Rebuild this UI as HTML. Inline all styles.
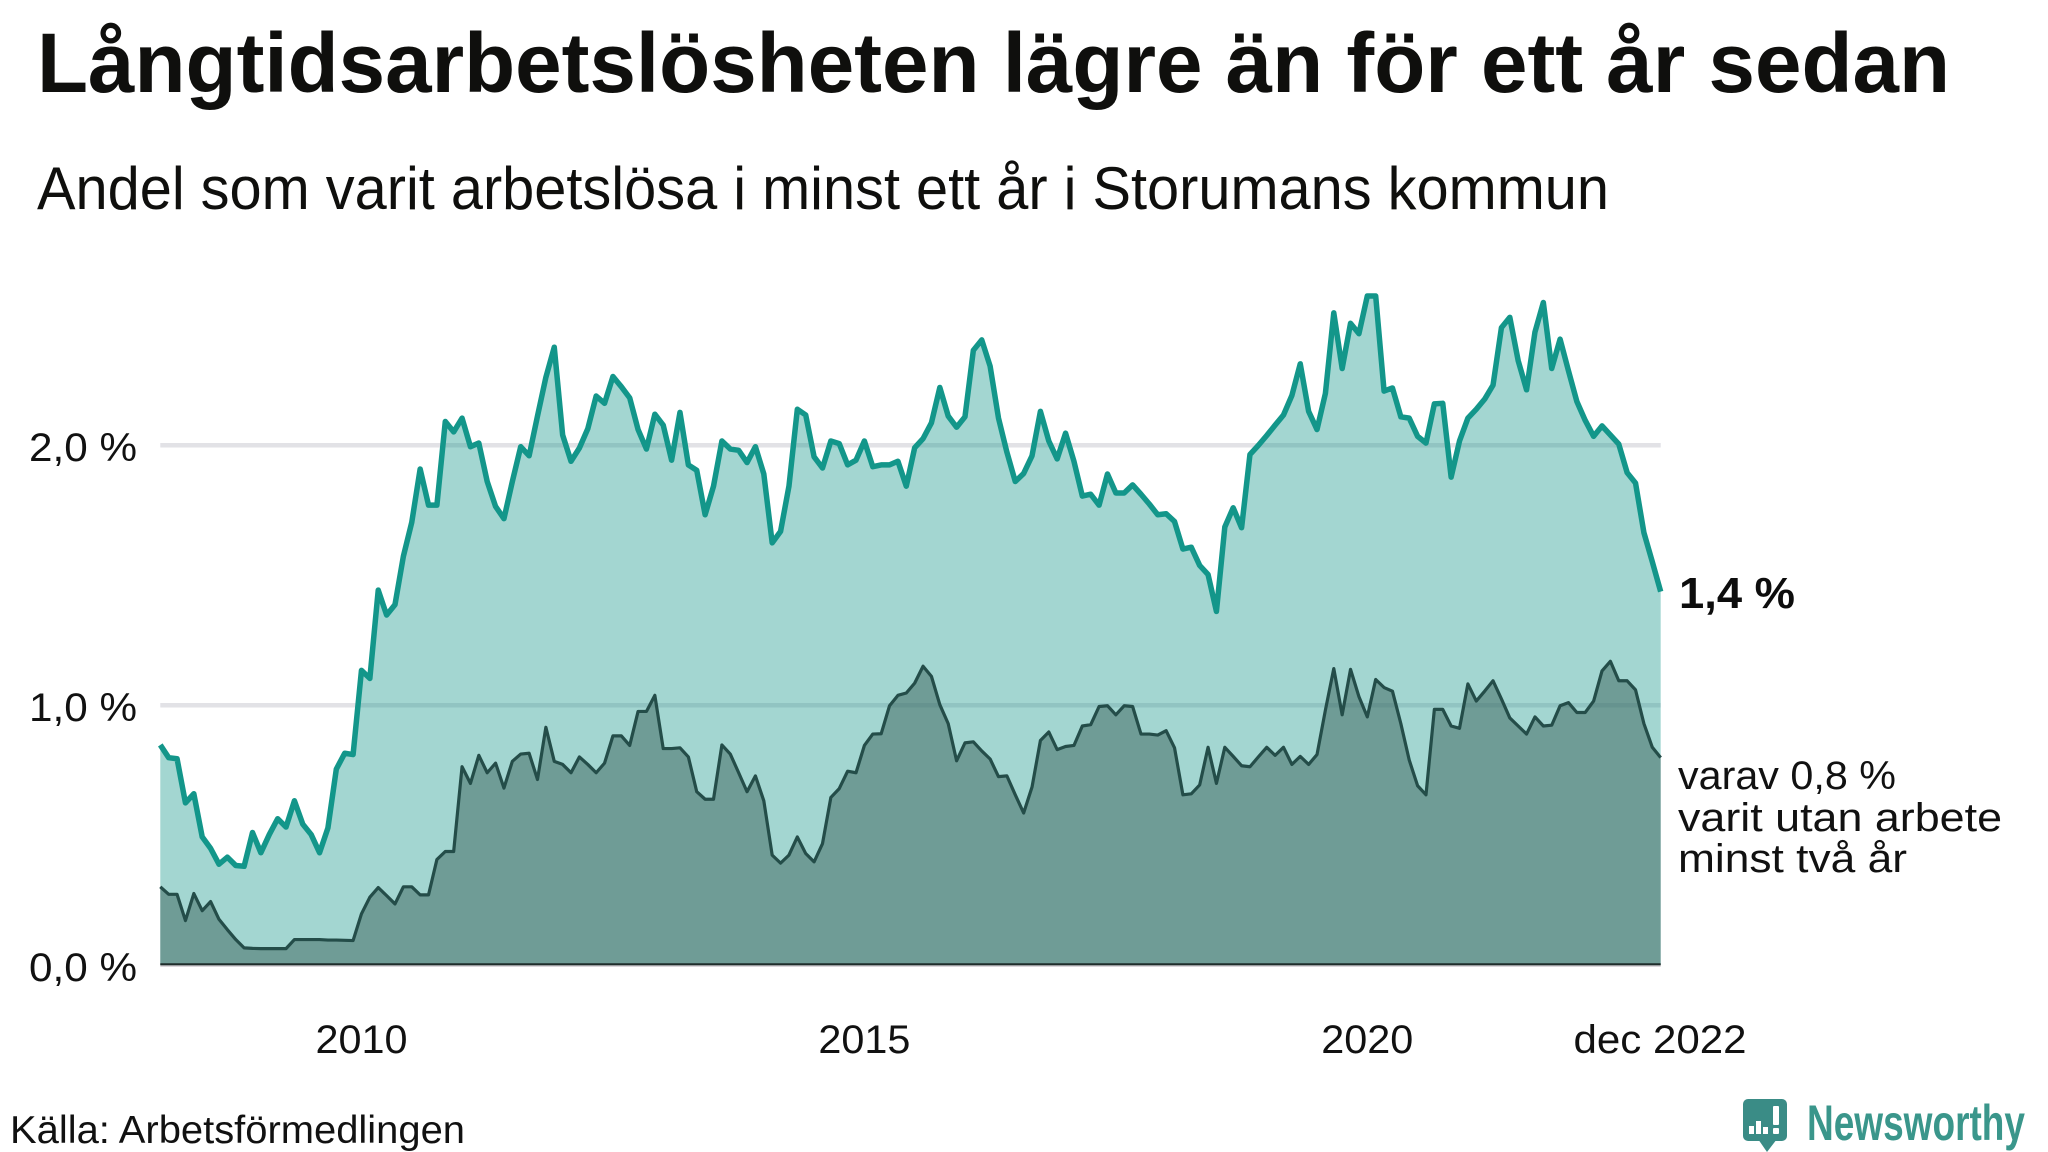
<!DOCTYPE html>
<html>
<head>
<meta charset="utf-8">
<style>
html,body{margin:0;padding:0;background:#fff;}
svg{display:block;}
text{font-family:"Liberation Sans","DejaVu Sans",sans-serif;}
</style>
</head>
<body>
<svg width="2048" height="1152" viewBox="0 0 2048 1152" xmlns="http://www.w3.org/2000/svg">
<rect x="0" y="0" width="2048" height="1152" fill="#ffffff"/>

<!-- Title & subtitle -->
<text x="37" y="92" font-size="84" font-weight="bold" fill="#0f0f0d" textLength="1913" lengthAdjust="spacingAndGlyphs">Långtidsarbetslösheten lägre än för ett år sedan</text>
<text x="37" y="209" font-size="60" fill="#0f0f0d" textLength="1572" lengthAdjust="spacingAndGlyphs">Andel som varit arbetslösa i minst ett år i Storumans kommun</text>

<!-- Gridlines -->
<line x1="160.3" y1="445.3" x2="1660.7" y2="445.3" stroke="#e2e2e6" stroke-width="4.5"/>
<line x1="160.3" y1="705.2" x2="1660.7" y2="705.2" stroke="#e2e2e6" stroke-width="4.5"/>

<!-- Y labels -->
<text x="137" y="461" font-size="40" fill="#111" text-anchor="end" textLength="108" lengthAdjust="spacingAndGlyphs">2,0 %</text>
<text x="137" y="721" font-size="40" fill="#111" text-anchor="end" textLength="108" lengthAdjust="spacingAndGlyphs">1,0 %</text>
<text x="137" y="981" font-size="40" fill="#111" text-anchor="end" textLength="108" lengthAdjust="spacingAndGlyphs">0,0 %</text>

<g transform="translate(160.3,965) scale(8.382,-259.8)">
<polygon fill="rgb(18,150,136)" fill-opacity="0.39" points="0,0 0,0.847 1,0.798 2,0.794 3,0.624 4,0.659 5,0.493 6,0.449 7,0.388 8,0.415 9,0.383 10,0.380 11,0.510 12,0.432 13,0.502 14,0.563 15,0.531 16,0.632 17,0.542 18,0.502 19,0.432 20,0.528 21,0.754 22,0.815 23,0.810 24,1.134 25,1.103 26,1.443 27,1.347 28,1.387 29,1.573 30,1.704 31,1.909 32,1.770 33,1.770 34,2.092 35,2.052 36,2.105 37,1.995 38,2.009 39,1.861 40,1.765 41,1.718 42,1.861 43,1.995 44,1.960 45,2.113 46,2.262 47,2.378 48,2.040 49,1.939 50,1.990 51,2.064 52,2.190 53,2.162 54,2.265 55,2.226 56,2.183 57,2.061 58,1.986 59,2.120 60,2.078 61,1.943 62,2.127 63,1.925 64,1.904 65,1.733 66,1.843 67,2.017 68,1.986 69,1.981 70,1.934 71,1.995 72,1.890 73,1.625 74,1.669 75,1.843 76,2.139 77,2.117 78,1.956 79,1.913 80,2.017 81,2.007 82,1.925 83,1.943 84,2.017 85,1.918 86,1.925 87,1.925 88,1.939 89,1.843 90,1.991 91,2.026 92,2.087 93,2.223 94,2.113 95,2.070 96,2.110 97,2.366 98,2.406 99,2.305 100,2.105 101,1.974 102,1.861 103,1.892 104,1.960 105,2.131 106,2.017 107,1.948 108,2.047 109,1.939 110,1.805 111,1.812 112,1.770 113,1.890 114,1.817 115,1.817 116,1.848 117,1.812 118,1.774 119,1.733 120,1.737 121,1.707 122,1.601 123,1.608 124,1.538 125,1.503 126,1.361 127,1.686 128,1.760 129,1.683 130,1.965 131,2.000 132,2.038 133,2.078 134,2.117 135,2.192 136,2.314 137,2.131 138,2.061 139,2.200 140,2.510 141,2.296 142,2.470 143,2.430 144,2.575 145,2.575 146,2.209 147,2.221 148,2.110 149,2.105 150,2.035 151,2.009 152,2.160 153,2.162 154,1.878 155,2.017 156,2.105 157,2.139 158,2.178 159,2.232 160,2.453 161,2.493 162,2.326 163,2.214 164,2.436 165,2.550 166,2.296 167,2.409 168,2.287 169,2.169 170,2.096 171,2.035 172,2.075 173,2.040 174,2.005 175,1.895 176,1.855 177,1.664 178,1.552 179,1.437 179,0"/>
<polygon fill="rgb(59,98,91)" fill-opacity="0.5" points="0,0 0,0.301 1,0.272 2,0.272 3,0.171 4,0.275 5,0.209 6,0.244 7,0.176 8,0.136 9,0.098 10,0.066 11,0.064 12,0.063 13,0.063 14,0.063 15,0.063 16,0.098 17,0.098 18,0.098 19,0.098 20,0.096 21,0.096 22,0.095 23,0.094 24,0.197 25,0.261 26,0.298 27,0.267 28,0.235 29,0.301 30,0.301 31,0.270 32,0.270 33,0.406 34,0.437 35,0.437 36,0.763 37,0.699 38,0.807 39,0.740 40,0.777 41,0.681 42,0.784 43,0.812 44,0.815 45,0.714 46,0.915 47,0.784 48,0.772 49,0.740 50,0.801 51,0.772 52,0.740 53,0.777 54,0.882 55,0.882 56,0.845 57,0.976 58,0.976 59,1.038 60,0.833 61,0.833 62,0.836 63,0.801 64,0.667 65,0.638 66,0.638 67,0.847 68,0.812 69,0.740 70,0.667 71,0.728 72,0.632 73,0.423 74,0.392 75,0.423 76,0.493 77,0.429 78,0.397 79,0.467 80,0.645 81,0.679 82,0.746 83,0.740 84,0.845 85,0.889 86,0.890 87,0.998 88,1.038 89,1.047 90,1.085 91,1.150 92,1.111 93,1.002 94,0.929 95,0.786 96,0.855 97,0.859 98,0.824 99,0.793 100,0.725 101,0.728 102,0.655 103,0.585 104,0.685 105,0.864 106,0.897 107,0.829 108,0.841 109,0.845 110,0.920 111,0.925 112,0.995 113,0.998 114,0.963 115,0.998 116,0.995 117,0.889 118,0.889 119,0.885 120,0.902 121,0.836 122,0.655 123,0.659 124,0.693 125,0.838 126,0.699 127,0.838 128,0.803 129,0.767 130,0.763 131,0.801 132,0.838 133,0.807 134,0.838 135,0.772 136,0.803 137,0.772 138,0.810 139,0.981 140,1.141 141,0.963 142,1.138 143,1.033 144,0.955 145,1.099 146,1.068 147,1.054 148,0.929 149,0.789 150,0.690 151,0.655 152,0.984 153,0.984 154,0.920 155,0.911 156,1.082 157,1.016 158,1.054 159,1.094 160,1.024 161,0.951 162,0.920 163,0.889 164,0.955 165,0.920 166,0.923 167,0.998 168,1.010 169,0.972 170,0.972 171,1.016 172,1.132 173,1.169 174,1.094 175,1.094 176,1.059 177,0.929 178,0.838 179,0.798 179,0"/>
<polyline fill="none" stroke="#244d49" stroke-width="3.2" stroke-linejoin="round" vector-effect="non-scaling-stroke" points="0,0.301 1,0.272 2,0.272 3,0.171 4,0.275 5,0.209 6,0.244 7,0.176 8,0.136 9,0.098 10,0.066 11,0.064 12,0.063 13,0.063 14,0.063 15,0.063 16,0.098 17,0.098 18,0.098 19,0.098 20,0.096 21,0.096 22,0.095 23,0.094 24,0.197 25,0.261 26,0.298 27,0.267 28,0.235 29,0.301 30,0.301 31,0.270 32,0.270 33,0.406 34,0.437 35,0.437 36,0.763 37,0.699 38,0.807 39,0.740 40,0.777 41,0.681 42,0.784 43,0.812 44,0.815 45,0.714 46,0.915 47,0.784 48,0.772 49,0.740 50,0.801 51,0.772 52,0.740 53,0.777 54,0.882 55,0.882 56,0.845 57,0.976 58,0.976 59,1.038 60,0.833 61,0.833 62,0.836 63,0.801 64,0.667 65,0.638 66,0.638 67,0.847 68,0.812 69,0.740 70,0.667 71,0.728 72,0.632 73,0.423 74,0.392 75,0.423 76,0.493 77,0.429 78,0.397 79,0.467 80,0.645 81,0.679 82,0.746 83,0.740 84,0.845 85,0.889 86,0.890 87,0.998 88,1.038 89,1.047 90,1.085 91,1.150 92,1.111 93,1.002 94,0.929 95,0.786 96,0.855 97,0.859 98,0.824 99,0.793 100,0.725 101,0.728 102,0.655 103,0.585 104,0.685 105,0.864 106,0.897 107,0.829 108,0.841 109,0.845 110,0.920 111,0.925 112,0.995 113,0.998 114,0.963 115,0.998 116,0.995 117,0.889 118,0.889 119,0.885 120,0.902 121,0.836 122,0.655 123,0.659 124,0.693 125,0.838 126,0.699 127,0.838 128,0.803 129,0.767 130,0.763 131,0.801 132,0.838 133,0.807 134,0.838 135,0.772 136,0.803 137,0.772 138,0.810 139,0.981 140,1.141 141,0.963 142,1.138 143,1.033 144,0.955 145,1.099 146,1.068 147,1.054 148,0.929 149,0.789 150,0.690 151,0.655 152,0.984 153,0.984 154,0.920 155,0.911 156,1.082 157,1.016 158,1.054 159,1.094 160,1.024 161,0.951 162,0.920 163,0.889 164,0.955 165,0.920 166,0.923 167,0.998 168,1.010 169,0.972 170,0.972 171,1.016 172,1.132 173,1.169 174,1.094 175,1.094 176,1.059 177,0.929 178,0.838 179,0.798"/>
<polyline fill="none" stroke="#13968a" stroke-width="5.5" stroke-linejoin="round" vector-effect="non-scaling-stroke" points="0,0.847 1,0.798 2,0.794 3,0.624 4,0.659 5,0.493 6,0.449 7,0.388 8,0.415 9,0.383 10,0.380 11,0.510 12,0.432 13,0.502 14,0.563 15,0.531 16,0.632 17,0.542 18,0.502 19,0.432 20,0.528 21,0.754 22,0.815 23,0.810 24,1.134 25,1.103 26,1.443 27,1.347 28,1.387 29,1.573 30,1.704 31,1.909 32,1.770 33,1.770 34,2.092 35,2.052 36,2.105 37,1.995 38,2.009 39,1.861 40,1.765 41,1.718 42,1.861 43,1.995 44,1.960 45,2.113 46,2.262 47,2.378 48,2.040 49,1.939 50,1.990 51,2.064 52,2.190 53,2.162 54,2.265 55,2.226 56,2.183 57,2.061 58,1.986 59,2.120 60,2.078 61,1.943 62,2.127 63,1.925 64,1.904 65,1.733 66,1.843 67,2.017 68,1.986 69,1.981 70,1.934 71,1.995 72,1.890 73,1.625 74,1.669 75,1.843 76,2.139 77,2.117 78,1.956 79,1.913 80,2.017 81,2.007 82,1.925 83,1.943 84,2.017 85,1.918 86,1.925 87,1.925 88,1.939 89,1.843 90,1.991 91,2.026 92,2.087 93,2.223 94,2.113 95,2.070 96,2.110 97,2.366 98,2.406 99,2.305 100,2.105 101,1.974 102,1.861 103,1.892 104,1.960 105,2.131 106,2.017 107,1.948 108,2.047 109,1.939 110,1.805 111,1.812 112,1.770 113,1.890 114,1.817 115,1.817 116,1.848 117,1.812 118,1.774 119,1.733 120,1.737 121,1.707 122,1.601 123,1.608 124,1.538 125,1.503 126,1.361 127,1.686 128,1.760 129,1.683 130,1.965 131,2.000 132,2.038 133,2.078 134,2.117 135,2.192 136,2.314 137,2.131 138,2.061 139,2.200 140,2.510 141,2.296 142,2.470 143,2.430 144,2.575 145,2.575 146,2.209 147,2.221 148,2.110 149,2.105 150,2.035 151,2.009 152,2.160 153,2.162 154,1.878 155,2.017 156,2.105 157,2.139 158,2.178 159,2.232 160,2.453 161,2.493 162,2.326 163,2.214 164,2.436 165,2.550 166,2.296 167,2.409 168,2.287 169,2.169 170,2.096 171,2.035 172,2.075 173,2.040 174,2.005 175,1.895 176,1.855 177,1.664 178,1.552 179,1.437"/>
</g>

<!-- Baseline -->
<line x1="160.3" y1="964.3" x2="1660.7" y2="964.3" stroke="#1f2d2b" stroke-width="2.2"/>
<line x1="160.3" y1="966.2" x2="1660.7" y2="966.2" stroke="#cfc8cf" stroke-width="1.2"/>

<!-- X labels -->
<text x="361.5" y="1053" font-size="40" fill="#111" text-anchor="middle" textLength="92" lengthAdjust="spacingAndGlyphs">2010</text>
<text x="864.4" y="1053" font-size="40" fill="#111" text-anchor="middle" textLength="92" lengthAdjust="spacingAndGlyphs">2015</text>
<text x="1367.3" y="1053" font-size="40" fill="#111" text-anchor="middle" textLength="92" lengthAdjust="spacingAndGlyphs">2020</text>
<text x="1660" y="1053" font-size="40" fill="#111" text-anchor="middle" textLength="173" lengthAdjust="spacingAndGlyphs">dec 2022</text>

<!-- Right annotations -->
<text x="1679" y="608" font-size="44" font-weight="bold" fill="#0d0d0d" textLength="116" lengthAdjust="spacingAndGlyphs">1,4 %</text>
<text x="1678" y="789" font-size="40" fill="#111" textLength="218" lengthAdjust="spacingAndGlyphs">varav 0,8 %</text>
<text x="1678" y="831" font-size="40" fill="#111" textLength="324" lengthAdjust="spacingAndGlyphs">varit utan arbete</text>
<text x="1678" y="872" font-size="40" fill="#111" textLength="229" lengthAdjust="spacingAndGlyphs">minst två år</text>

<!-- Source -->
<text x="10" y="1143" font-size="39" fill="#111" textLength="455" lengthAdjust="spacingAndGlyphs">Källa: Arbetsförmedlingen</text>

<!-- Newsworthy logo -->
<rect x="1743" y="1099" width="44" height="42" rx="5" fill="#3a8c86"/>
<polygon points="1758,1139 1777,1139 1767,1152" fill="#3a8c86"/>
<rect x="1749" y="1126" width="5" height="8" fill="#ffffff"/>
<rect x="1756" y="1121" width="5" height="13" fill="#ffffff"/>
<rect x="1763" y="1127" width="5" height="7" fill="#ffffff"/>
<rect x="1773" y="1106" width="6" height="19" rx="1" fill="#ffffff"/>
<rect x="1773" y="1128" width="6" height="6" rx="1" fill="#ffffff"/>
<text x="1807" y="1140" font-size="50" font-weight="bold" fill="#3a968b" textLength="218" lengthAdjust="spacingAndGlyphs">Newsworthy</text>
</svg>
</body>
</html>
